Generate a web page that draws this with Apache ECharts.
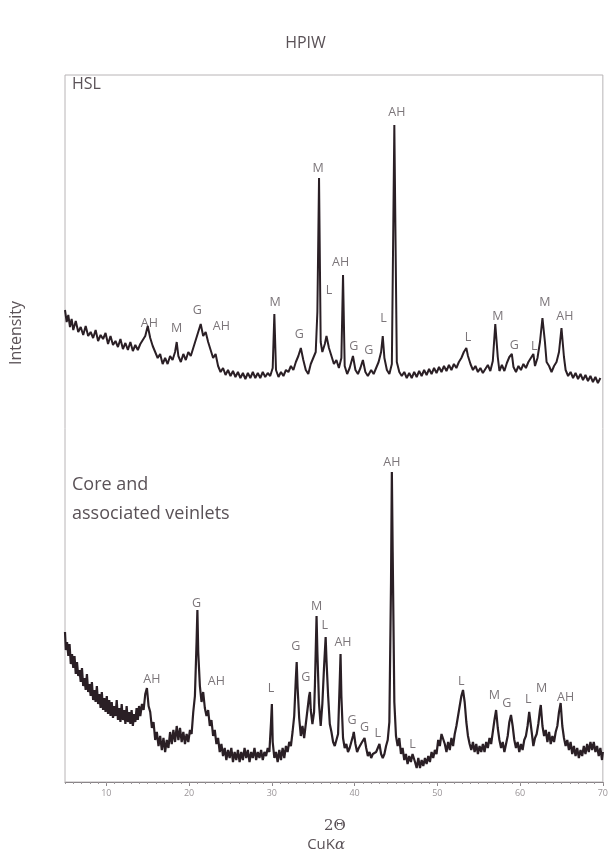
<!DOCTYPE html>
<html><head><meta charset="utf-8">
<script src="https://cdn.jsdelivr.net/npm/echarts@6/dist/echarts.min.js"></script>
<style>html,body{margin:0;padding:0;background:#fff}#c{width:611px;height:854px}</style>
</head><body><div id="c"></div>
<script>
// 2θ (degrees) and relative intensity (arbitrary units; HSL trace stacked above)
const hslTheta = [5.0,5.2,5.4,5.6,5.8,6.0,6.3,6.6,6.9,7.2,7.5,7.8,8.1,8.4,8.7,9.0,9.3,9.6,9.9,10.2,10.5,10.8,11.1,11.4,11.7,12.0,12.3,12.6,12.9,13.2,13.5,13.8,14.1,14.4,14.7,15.0,15.3,15.6,15.9,16.2,16.5,16.8,17.1,17.4,17.7,18.0,18.3,18.5,18.7,19.0,19.3,19.6,19.9,20.2,20.5,20.8,21.1,21.4,21.7,22.0,22.3,22.6,22.9,23.2,23.5,23.8,24.1,24.4,24.7,25.0,25.3,25.6,25.9,26.2,26.5,26.8,27.1,27.4,27.7,28.0,28.3,28.6,28.9,29.2,29.5,29.8,30.1,30.3,30.5,30.8,31.1,31.4,31.7,32.0,32.3,32.6,32.9,33.2,33.5,33.8,34.1,34.4,34.7,35.0,35.3,35.5,35.7,35.9,36.1,36.4,36.6,36.9,37.2,37.5,37.8,38.1,38.4,38.6,38.8,39.1,39.4,39.6,39.8,40.1,40.4,40.7,41.0,41.3,41.6,42.0,42.3,42.6,42.9,43.2,43.4,43.6,43.9,44.2,44.5,44.8,45.1,45.4,45.7,46.0,46.3,46.6,46.9,47.2,47.5,47.8,48.1,48.4,48.7,49.0,49.3,49.6,49.9,50.2,50.5,50.8,51.1,51.4,51.7,52.0,52.3,52.6,52.9,53.2,53.5,53.7,54.0,54.3,54.6,54.9,55.2,55.5,55.8,56.1,56.4,56.7,57.0,57.3,57.5,57.8,58.1,58.4,58.7,59.0,59.2,59.5,59.8,60.1,60.4,60.7,61.0,61.3,61.6,61.8,62.1,62.4,62.7,63.0,63.2,63.5,63.8,64.1,64.4,64.7,65.0,65.3,65.5,65.8,66.1,66.4,66.7,67.0,67.3,67.6,67.9,68.2,68.5,68.8,69.1,69.4,69.7,70.0];
const hslIntensity = [472,460,467,455,463,452,461,450,455,447,456,446,450,444,452,441,447,443,449,438,446,437,441,435,443,433,439,432,440,431,437,432,438,442,446,456,444,436,430,424,428,418,424,418,426,422,430,440,426,420,428,422,430,426,434,442,450,458,446,450,440,432,424,428,416,410,414,407,412,406,411,405,410,404,409,403,409,404,410,404,409,404,410,405,409,406,414,468,412,405,410,406,412,410,416,412,420,426,434,422,412,408,418,424,430,470,604,440,430,438,446,434,426,418,422,414,424,507,416,408,414,420,426,412,408,414,422,410,406,412,408,414,420,430,446,424,412,408,418,657,420,410,406,410,404,409,404,410,405,411,406,412,407,413,408,414,409,415,410,416,411,417,412,418,414,420,424,430,434,426,418,412,416,410,414,409,413,417,411,421,458,425,411,417,411,419,425,428,415,410,416,412,418,414,420,424,428,416,424,440,464,440,420,416,410,416,420,430,454,425,412,406,410,404,409,403,408,402,407,401,406,400,405,399,404];
const coreTheta = [5.0,5.1,5.25,5.4,5.55,5.7,5.85,6.0,6.15,6.3,6.45,6.6,6.75,6.9,7.05,7.2,7.35,7.5,7.65,7.8,7.95,8.1,8.25,8.4,8.55,8.7,8.85,9.0,9.15,9.3,9.45,9.6,9.75,9.9,10.05,10.2,10.35,10.5,10.65,10.8,10.95,11.1,11.25,11.4,11.55,11.7,11.85,12.0,12.15,12.3,12.45,12.6,12.75,12.9,13.05,13.2,13.35,13.5,13.65,13.8,13.95,14.1,14.3,14.5,14.7,14.9,15.1,15.3,15.5,15.7,15.9,16.1,16.3,16.5,16.7,16.9,17.1,17.3,17.5,17.7,17.9,18.1,18.3,18.5,18.7,18.9,19.1,19.3,19.5,19.7,19.9,20.1,20.3,20.5,20.7,20.9,21.0,21.1,21.3,21.5,21.7,21.9,22.1,22.3,22.5,22.7,22.9,23.1,23.3,23.5,23.7,23.9,24.1,24.3,24.5,24.7,24.9,25.1,25.3,25.5,25.7,25.9,26.1,26.3,26.5,26.7,26.9,27.1,27.3,27.5,27.7,27.9,28.1,28.3,28.5,28.7,28.9,29.1,29.3,29.5,29.7,29.9,30.0,30.1,30.3,30.5,30.7,30.9,31.1,31.3,31.5,31.7,31.9,32.1,32.3,32.5,32.7,32.9,33.0,33.1,33.3,33.5,33.7,33.9,34.1,34.3,34.5,34.6,34.7,34.9,35.1,35.2,35.4,35.5,35.7,35.9,36.1,36.3,36.5,36.6,36.8,37.0,37.2,37.4,37.6,37.8,38.0,38.2,38.3,38.4,38.6,38.8,39.0,39.2,39.4,39.6,39.8,39.9,40.1,40.3,40.5,40.7,40.9,41.1,41.2,41.4,41.6,41.8,42.0,42.2,42.4,42.6,42.8,43.0,43.2,43.4,43.6,43.8,44.0,44.2,44.4,44.5,44.6,44.8,45.0,45.2,45.4,45.6,45.8,46.0,46.2,46.4,46.6,46.8,47.0,47.1,47.3,47.5,47.7,47.9,48.1,48.3,48.5,48.7,48.9,49.1,49.3,49.5,49.7,49.9,50.1,50.3,50.5,50.7,50.9,51.1,51.3,51.5,51.7,51.9,52.1,52.3,52.5,52.7,52.9,53.1,53.3,53.5,53.7,53.9,54.1,54.3,54.5,54.7,54.9,55.1,55.3,55.5,55.7,55.9,56.1,56.3,56.5,56.7,56.9,57.1,57.3,57.5,57.7,57.9,58.1,58.3,58.5,58.7,58.9,59.1,59.3,59.5,59.7,59.9,60.1,60.3,60.5,60.7,60.9,61.1,61.2,61.4,61.6,61.8,62.0,62.2,62.4,62.5,62.7,62.9,63.1,63.3,63.5,63.7,63.9,64.1,64.3,64.5,64.7,64.9,65.1,65.3,65.5,65.7,65.9,66.1,66.3,66.5,66.7,66.9,67.1,67.3,67.5,67.7,67.9,68.1,68.3,68.5,68.7,68.9,69.1,69.3,69.5,69.7,69.9,70.0];
const coreIntensity = [150,132,140,126,138,118,128,114,126,108,120,106,112,100,114,96,104,92,108,90,98,86,100,82,92,80,96,78,88,74,90,72,84,70,86,68,82,66,80,64,76,66,82,62,74,60,78,62,72,58,76,60,70,58,72,56,68,60,74,62,76,66,
 78,72,88,94,76,70,54,60,42,50,36,46,32,44,30,42,34,50,38,52,40,56,42,54,40,50,38,48,40,52,48,70,86,140,172,130,96,80,90,74,66,72,56,62,46,52,38,44,30,38,26,34,22,32,24,34,20,30,22,32,20,30,22,34,24,32,20,30,24,34,22,30,24,32,22,30,26,34,30,60,78,40,24,30,20,32,22,34,24,36,30,40,36,50,66,104,120,96,64,46,56,44,58,60,86,90,72,58,
 70,96,166,130,78,56,78,114,145,122,86,58,50,40,36,42,48,100,128,86,44,34,38,30,34,40,46,50,38,30,34,36,40,42,44,34,26,30,24,28,26,30,34,38,28,
 24,28,36,42,60,200,310,230,80,46,36,44,
 28,34,22,28,18,26,20,28,30,20,14,24,14,22,16,24,18,26,20,30,24,32,28,
 42,36,48,50,38,30,40,32,44,36,48,56,66,76,86,92,80,60,46,38,32,40,30,38,28,36,30,38,30,40,34,44,38,50,62,72,54,42,34,40,30,38,46,60,67,56,42,34,40,30,38,32,42,46,56,70,72,50,36,44,48,58,72,77,56,46,52,40,50,38,46,40,50,56,70,79,56,44,36,42,32,40,28,36,26,34,24,32,26,36,28,38,30,40,32,40,30,36,26,34,22,30];
// phase labels: [text, 2θ, level]
const hslLabels = [['AH',15.2,459],['M',18.5,454],['G',21.0,472],['AH',23.9,456],['M',30.4,480],['G',33.3,448],['M',35.6,614],['L',36.9,492],['AH',38.3,520],['G',39.9,436],['G',41.7,432],['L',43.5,464],['AH',45.1,670],['L',53.7,445],['M',57.3,466],['G',59.3,437],['L',61.7,436],['M',63.0,480],['AH',65.4,466]];
const coreLabels = [['AH',44.5,320],['G',20.9,179],['M',35.4,176],['L',36.4,157],['AH',38.6,140],['G',32.9,136],['G',34.1,105],['AH',15.5,103],['AH',23.3,101],['L',29.9,94],['G',39.7,62],['G',41.2,55],['L',42.8,49],['L',47.0,38],['L',52.9,101],['M',56.9,87],['G',58.4,79],['L',61.0,83],['M',62.6,94],['AH',65.5,85]];
const xTickValues = [10,20,30,40,50,60,70];

const zip = (a,b) => a.map((v,i)=>[v,b[i]]);
const lab = arr => arr.map(d=>({name:d[0], value:[d[1],d[2]]}));
const chart = echarts.init(document.getElementById('c'));
const txtColor = '#5a5257';
chart.setOption({
  animation:false,
  backgroundColor:'#fff',
  title:{text:'HPIW', left:'center', top:30, textStyle:{fontFamily:'Open Sans', fontSize:16, fontWeight:'normal', color:txtColor}},
  grid:{left:65, right:6, top:75, bottom:72, show:true, borderColor:'#b8b4b6', borderWidth:1},
  xAxis:[{type:'value', min:5, max:70, axisLine:{lineStyle:{color:'#8a8588'}},
    axisTick:{customValues:xTickValues, length:4, lineStyle:{color:'#8a8588'}},
    axisLabel:{customValues:xTickValues, fontSize:9, color:'#9a9598', margin:7, fontFamily:'Open Sans'},
    splitLine:{show:false}},
   {type:'value', min:5, max:70, interval:1, position:'bottom', axisLine:{show:false},
    axisTick:{length:2, lineStyle:{color:'#9a9598'}}, axisLabel:{show:false}, splitLine:{show:false}}],
  yAxis:{type:'value', min:0, max:707, show:false, splitLine:{show:false}},
  series:[
    {type:'line', data:zip(hslTheta,hslIntensity), showSymbol:false, symbol:'none', lineStyle:{color:'#2a1f25', width:2}},
    {type:'line', data:zip(coreTheta,coreIntensity), showSymbol:false, symbol:'none', lineStyle:{color:'#2a1f25', width:2.2}},
    {type:'scatter', data:lab(hslLabels).concat(lab(coreLabels)), symbolSize:0, silent:true,
     label:{show:true, position:'inside', formatter:p=>p.name, fontFamily:'Open Sans', fontSize:12.5, color:txtColor}}
  ],
  graphic:[
    {type:'text', left:72, top:76, style:{text:'HSL', fontFamily:'Open Sans', fontSize:16, fill:txtColor}},
    {type:'text', left:72, top:470, style:{text:'Core and\nassociated veinlets', fontFamily:'Open Sans', fontSize:18, lineHeight:29, fill:txtColor}},
    {type:'text', x:16, y:333, rotation:Math.PI/2, style:{text:'Intensity', fontFamily:'Open Sans', fontSize:16, fill:txtColor, align:'center', verticalAlign:'middle'}},
    {type:'text', x:335, y:826, style:{text:'2Θ', fontFamily:'DejaVu Serif', fontSize:15, fill:txtColor, align:'center', verticalAlign:'middle'}},
    {type:'text', x:335, y:845, style:{text:'CuK', fontFamily:'Open Sans', fontSize:15, fill:txtColor, align:'right', verticalAlign:'middle'}},
    {type:'text', x:335, y:845, style:{text:'α', fontFamily:'DejaVu Serif', fontStyle:'italic', fontSize:15, fill:txtColor, align:'left', verticalAlign:'middle'}}
  ]
});
</script></body></html>
